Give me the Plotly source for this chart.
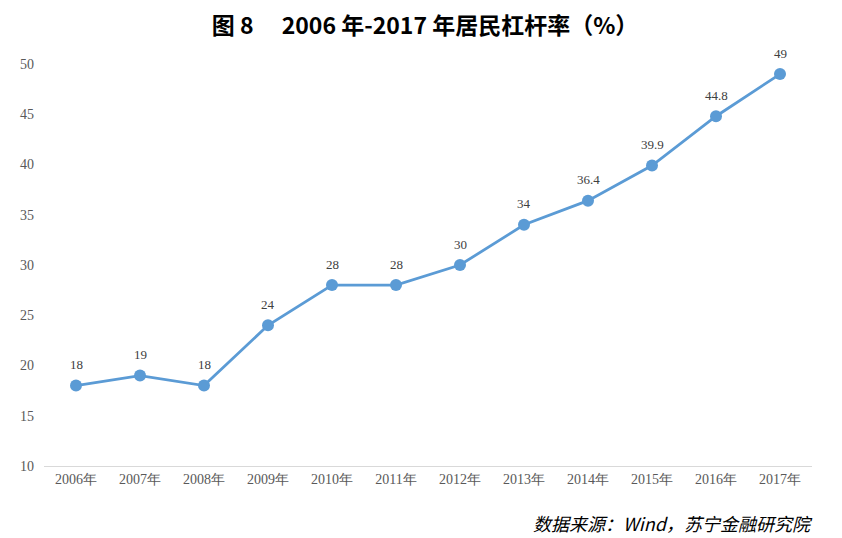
import plotly.graph_objects as go

years = ["2006年", "2007年", "2008年", "2009年", "2010年", "2011年",
         "2012年", "2013年", "2014年", "2015年", "2016年", "2017年"]
leverage = [18, 19, 18, 24, 28, 28, 30, 34, 36.4, 39.9, 44.8, 49]
labels = ["18", "19", "18", "24", "28", "28", "30", "34", "36.4", "39.9", "44.8", "49"]
y_ticks = [10, 15, 20, 25, 30, 35, 40, 45, 50]

fig = go.Figure()
fig.add_trace(go.Scatter(
    x=years, y=leverage, mode="lines+markers",
    line=dict(color="#5B9BD5", width=2.8),
    marker=dict(color="#5B9BD5", size=12),
    cliponaxis=False, showlegend=False,
))

annotations = [dict(x=xv, y=yv, text=t, xref="x", yref="y", showarrow=False,
                    yshift=21, yanchor="middle",
                    font=dict(family="Liberation Serif", size=13, color="#404040"))
               for xv, yv, t in zip(years, leverage, labels)]

annotations.append(dict(text="<i>数据来源：Wind，苏宁金融研究院</i>",
                        xref="paper", yref="paper", x=1.004, y=-0.142,
                        xanchor="right", yanchor="middle", showarrow=False,
                        font=dict(family="Noto Sans CJK SC", size=18, color="black")))

# Page body has an 8px margin, so the figure is sized 834x530 to fill 842x538.
fig.update_layout(
    width=834, height=530,
    paper_bgcolor="white", plot_bgcolor="white",
    margin=dict(l=34, r=30, t=56, b=72),
    title=dict(text="<b>图 8　 2006 年-2017 年居民杠杆率（%）</b>",
               x=0.5, xanchor="center", y=0.967, yanchor="middle",
               font=dict(family="Noto Sans CJK SC", size=23, color="black")),
    xaxis=dict(type="category", showgrid=False, showline=True,
               linecolor="#D9D9D9", linewidth=1, ticks="",
               tickfont=dict(family="Liberation Serif", size=14, color="#595959"),
               range=[-0.5, 11.5]),
    yaxis=dict(range=[10, 50], tickvals=y_ticks, showgrid=False,
               zeroline=False, showline=False, ticks="",
               tickfont=dict(family="Liberation Serif", size=14, color="#595959"),
               ticklabelstandoff=9),
    annotations=annotations,
)

fig.write_html("out.html")
